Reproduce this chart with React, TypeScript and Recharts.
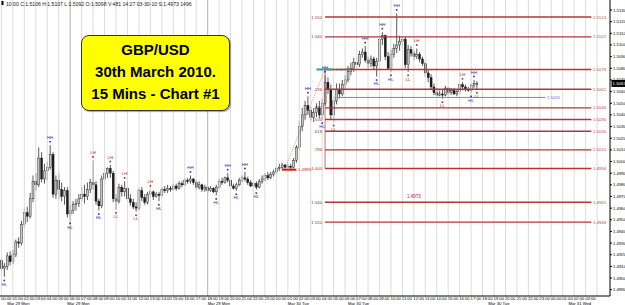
import {
  Bar,
  ComposedChart,
  ReferenceDot,
  ReferenceLine,
  Scatter,
  XAxis,
  YAxis
} from 'recharts';

// 15 min bars, Mar 29 00:00 onwards
const opens = [
  1.4915, 1.4908, 1.491, 1.4919, 1.4914, 1.492, 1.4931, 1.493, 1.4946, 1.4956,
  1.4953, 1.4968, 1.4983, 1.498, 1.5003, 1.4985, 1.4992, 1.4995, 1.5006, 1.4972,
  1.4984, 1.4976, 1.497, 1.4975, 1.4955, 1.4958, 1.4963, 1.4964, 1.4968, 1.4972,
  1.497, 1.4976, 1.4982, 1.498, 1.4966, 1.4962, 1.4985, 1.499, 1.4994, 1.499,
  1.4968, 1.4966, 1.4978, 1.4974, 1.4977, 1.4968, 1.4965, 1.4961, 1.496, 1.4975,
  1.4969, 1.4965, 1.4972, 1.4974, 1.497, 1.4972, 1.4971, 1.4976, 1.4975, 1.4977,
  1.4976, 1.4979, 1.4977, 1.4981, 1.498, 1.4984, 1.4983, 1.4985, 1.4982, 1.4978,
  1.498, 1.4976, 1.4978, 1.4975, 1.4977, 1.4974, 1.4978, 1.4983, 1.4982, 1.4986,
  1.4984, 1.4979, 1.4977, 1.498, 1.4984, 1.4986, 1.4985, 1.4982, 1.4979, 1.4981,
  1.4978, 1.4983, 1.4985, 1.4988, 1.4986, 1.4989, 1.4991, 1.4994, 1.4995, 1.4997,
  1.4995, 1.4996, 1.4995, 1.5001, 1.5012, 1.503, 1.504, 1.5048, 1.5044, 1.5038,
  1.5042, 1.5046, 1.504, 1.505, 1.5068, 1.5062, 1.504, 1.5052, 1.5062, 1.5058,
  1.5066, 1.507, 1.5077, 1.508, 1.5085, 1.5083, 1.5092, 1.5094, 1.5087, 1.5084,
  1.5088, 1.5082, 1.5086, 1.5105, 1.5108, 1.509, 1.508, 1.5092, 1.5097, 1.51,
  1.5103, 1.5105, 1.5083, 1.5096, 1.5093, 1.509, 1.5092, 1.5088, 1.5084, 1.5076,
  1.5072, 1.5064, 1.5059, 1.5057, 1.5058, 1.5057, 1.5063, 1.5059, 1.5061, 1.5058,
  1.506, 1.5066, 1.5064, 1.5062, 1.5061, 1.5065, 1.5067
];
const highs = [
  1.4917, 1.4913, 1.4922, 1.4923, 1.4924, 1.4933, 1.4935, 1.4949, 1.496, 1.4961,
  1.4973, 1.4988, 1.499, 1.5012, 1.5008, 1.4998, 1.5, 1.5014, 1.5008, 1.4988,
  1.499, 1.4982, 1.4978, 1.4978, 1.4962, 1.4966, 1.4968, 1.4972, 1.4978, 1.498,
  1.4982, 1.4985, 1.5001, 1.4983, 1.4968, 1.4988, 1.4994, 1.4995, 1.4997, 1.4992,
  1.4972, 1.4981, 1.498, 1.4983, 1.4979, 1.4972, 1.4968, 1.4965, 1.4977, 1.4978,
  1.4972, 1.4974, 1.4976, 1.4975, 1.4974, 1.4974, 1.4978, 1.4979, 1.498, 1.4979,
  1.4981, 1.4981, 1.4983, 1.4983, 1.4986, 1.4986, 1.4988, 1.4986, 1.4984, 1.4983,
  1.4981, 1.498, 1.4979, 1.4979, 1.4978, 1.498, 1.4985, 1.4986, 1.4987, 1.499,
  1.4985, 1.4981, 1.4982, 1.4986, 1.4988, 1.4991, 1.4987, 1.4984, 1.4983, 1.4983,
  1.4985, 1.4988, 1.499, 1.4991, 1.4991, 1.4993, 1.4996, 1.4998, 1.4999, 1.4998,
  1.4998, 1.4998, 1.5003, 1.5014, 1.5035, 1.5046, 1.5052, 1.5056, 1.5047, 1.5046,
  1.505, 1.5052, 1.5054, 1.5074, 1.5072, 1.5066, 1.5056, 1.5067, 1.5067, 1.507,
  1.5074, 1.5082, 1.5085, 1.5089, 1.509, 1.5095, 1.5097, 1.5099, 1.509, 1.5091,
  1.509, 1.5089, 1.5108, 1.5111, 1.5109, 1.5094, 1.5096, 1.5101, 1.5127, 1.5108,
  1.5107, 1.5107, 1.51, 1.5099, 1.5095, 1.5097, 1.5094, 1.509, 1.5086, 1.5079,
  1.5075, 1.5067, 1.5063, 1.5061, 1.5062, 1.5065, 1.5064, 1.5063, 1.5063, 1.5062,
  1.5066, 1.5068, 1.5066, 1.5064, 1.5067, 1.507, 1.5069
];
const lows = [
  1.4905, 1.4901, 1.4907, 1.4911, 1.4912, 1.4918, 1.4926, 1.4928, 1.4943, 1.4948,
  1.4951, 1.4965, 1.4975, 1.4978, 1.4982, 1.4981, 1.4984, 1.4993, 1.4969, 1.4968,
  1.4968, 1.4966, 1.4963, 1.4952, 1.495, 1.4955, 1.4958, 1.4961, 1.4966, 1.4964,
  1.4967, 1.4973, 1.4976, 1.4963, 1.4958, 1.496, 1.498, 1.4986, 1.4986, 1.4965,
  1.4959, 1.4964, 1.497, 1.497, 1.4966, 1.4962, 1.4959, 1.4957, 1.4958, 1.4966,
  1.4963, 1.4963, 1.4969, 1.4967, 1.4969, 1.4966, 1.497, 1.4973, 1.4973, 1.4974,
  1.4975, 1.4975, 1.4976, 1.4978, 1.4979, 1.4981, 1.4981, 1.498, 1.4976, 1.4976,
  1.4974, 1.4974, 1.4973, 1.4974, 1.4973, 1.4971, 1.4977, 1.498, 1.4981, 1.4982,
  1.4977, 1.4976, 1.4975, 1.4979, 1.4982, 1.4983, 1.498, 1.4978, 1.4978, 1.4976,
  1.4977, 1.4981, 1.4983, 1.4984, 1.4985, 1.4987, 1.4989, 1.4992, 1.4993, 1.4994,
  1.4994, 1.4993, 1.4994, 1.4999, 1.501, 1.5026, 1.5036, 1.504, 1.5035, 1.5034,
  1.5038, 1.5037, 1.5036, 1.5048, 1.5058, 1.5036, 1.5034, 1.5049, 1.5054, 1.5056,
  1.5062, 1.5068, 1.5074, 1.5077, 1.508, 1.5081, 1.5089, 1.5085, 1.508, 1.5081,
  1.5079, 1.5073, 1.5083, 1.51, 1.5087, 1.5079, 1.5077, 1.5089, 1.5093, 1.5095,
  1.5098, 1.508, 1.5077, 1.509, 1.5087, 1.5088, 1.5085, 1.5082, 1.5073, 1.5068,
  1.5062, 1.5057, 1.5056, 1.5056, 1.5054, 1.5056, 1.5057, 1.5057, 1.5057, 1.5056,
  1.5058, 1.5061, 1.506, 1.506, 1.5059, 1.5063, 1.5062
];
const closes = [
  1.4908, 1.491, 1.4919, 1.4914, 1.492, 1.4931, 1.493, 1.4946, 1.4956, 1.4953,
  1.4968, 1.4983, 1.498, 1.5003, 1.4985, 1.4992, 1.4995, 1.5006, 1.4972, 1.4984,
  1.4976, 1.497, 1.4975, 1.4955, 1.4958, 1.4963, 1.4964, 1.4968, 1.4972, 1.497,
  1.4976, 1.4982, 1.498, 1.4966, 1.4962, 1.4985, 1.499, 1.4994, 1.499, 1.4968,
  1.4966, 1.4978, 1.4974, 1.4977, 1.4968, 1.4965, 1.4961, 1.496, 1.4975, 1.4969,
  1.4965, 1.4972, 1.4974, 1.497, 1.4972, 1.4971, 1.4976, 1.4975, 1.4977, 1.4976,
  1.4979, 1.4977, 1.4981, 1.498, 1.4984, 1.4983, 1.4985, 1.4982, 1.4978, 1.498,
  1.4976, 1.4978, 1.4975, 1.4977, 1.4974, 1.4978, 1.4983, 1.4982, 1.4986, 1.4984,
  1.4979, 1.4977, 1.498, 1.4984, 1.4986, 1.4985, 1.4982, 1.4979, 1.4981, 1.4978,
  1.4983, 1.4985, 1.4988, 1.4986, 1.4989, 1.4991, 1.4994, 1.4995, 1.4997, 1.4995,
  1.4996, 1.4995, 1.5001, 1.5012, 1.503, 1.504, 1.5048, 1.5044, 1.5038, 1.5042,
  1.5046, 1.504, 1.505, 1.5068, 1.5062, 1.504, 1.5052, 1.5062, 1.5058, 1.5066,
  1.507, 1.5077, 1.508, 1.5085, 1.5083, 1.5092, 1.5094, 1.5087, 1.5084, 1.5088,
  1.5082, 1.5086, 1.5105, 1.5108, 1.509, 1.508, 1.5092, 1.5097, 1.51, 1.5103,
  1.5105, 1.5083, 1.5096, 1.5093, 1.509, 1.5092, 1.5088, 1.5084, 1.5076, 1.5072,
  1.5064, 1.5059, 1.5057, 1.5058, 1.5057, 1.5063, 1.5059, 1.5061, 1.5058, 1.506,
  1.5066, 1.5064, 1.5062, 1.5061, 1.5065, 1.5067, 1.5067
];

// swing labels (bar index + type)
const swingSlots = [
  1, 17, 24, 32, 34, 38, 40, 43, 47, 52, 55, 66, 75, 79, 82, 85, 89,
  107, 112, 113, 116, 127, 131, 133, 136, 138, 142, 145, 154, 161, 164, 165, 166
];
const swingKinds = [
  'HL', 'HH', 'HL', 'LH', 'HL', 'LH', 'LL', 'LH', 'LL', 'LH', 'HL', 'HH', 'HL', 'HH', 'HL', 'HH', 'HL',
  'HH', 'HL', 'HH', 'LL', 'HH', 'HL', 'HH', 'HL', 'HH', 'LL', 'LH', 'LL', 'LH', 'HL', 'HH', 'LL'
];

const hourLabels = [
  '00:00', '01:00', '02:00', '03:00', '04:00', '05:00', '06:00', '07:00', '08:00', '09:00',
  '10:00', '11:00', '12:00', '13:00', '14:00', '15:00', '16:00', '17:00', '18:00', '19:00',
  '20:00', '21:00', '22:00', '23:00', '00:00', '01:00', '02:00', '03:00', '04:00', '05:00',
  '06:00', '07:00', '08:00', '09:00', '10:00', '11:00', '12:00', '13:00', '14:00', '15:00',
  '16:00', '17:00', '18:00', '19:00', '20:00', '21:00', '22:00', '23:00', '00:00', '01:00',
  '02:00', '03:00'
];
const hourSlots = hourLabels.map((_, i) => i * 4);
const gridSlots = [...hourSlots, 208];

const dateLabels = ['Mar 29 Mon', 'Mar 29 Mon', 'Mar 29 Mon', 'Mar 30 Tue', 'Mar 30 Tue', 'Mar 30 Tue', 'Mar 31 Wed'];
const dateSlots = [2, 23, 72, 100, 121, 170, 198];

const priceTicks = [
  1.489, 1.49, 1.491, 1.492, 1.493, 1.494, 1.495, 1.496, 1.497, 1.498, 1.499, 1.5, 1.501,
  1.502, 1.503, 1.504, 1.505, 1.506, 1.507, 1.508, 1.509, 1.51, 1.511, 1.512, 1.513
];

// fibonacci levels drawn off the 1.4994 -> 1.5079 swing
const fibPrices = [1.5124, 1.5107, 1.5079, 1.5062, 1.5046, 1.5036, 1.5026, 1.501, 1.4994, 1.4965, 1.4948];
const fibNames = ['1.550', '1.340', '', '.236', '.382', '.500', '.618', '.786', '1.000', '1.340', '1.550'];
const swingLow = 1.4993;
const swingHigh = 1.5079;
const supportLevel = 1.5055;
const stopLevel = 1.4973;

const SLOTS = 213;
const FONT = '"Liberation Sans", Arial, sans-serif';

const data = Array.from({ length: SLOTS }, (_, i) => {
  const k = swingSlots.indexOf(i);
  const kind = k >= 0 ? swingKinds[k] : undefined;
  return {
    slot: i,
    o: opens[i],
    h: highs[i],
    l: lows[i],
    c: closes[i],
    kind,
    mark: kind ? (kind === 'HH' || kind === 'LH' ? highs[i] : lows[i]) : undefined
  };
});

const lastClose = closes[closes.length - 1];

const Candle = (props: any) => {
  const { x, y, width, height, payload } = props;
  if (!payload || payload.o === undefined || !height) return null;
  const { o, h, l, c } = payload;
  const k = height / (h - l);
  const cx = x + width / 2;
  const top = y + (h - Math.max(o, c)) * k;
  const bot = y + (h - Math.min(o, c)) * k;
  const up = c >= o;
  return (
    <g>
      <line x1={cx} x2={cx} y1={y} y2={y + height} stroke="#111" strokeWidth={0.7} />
      <rect
        x={cx - 1}
        y={top}
        width={2}
        height={Math.max(bot - top, 0.8)}
        fill={up ? '#c4c4c4' : '#1c1c1c'}
        stroke="#111"
        strokeWidth={0.4}
      />
    </g>
  );
};

const SwingMark = (props: any) => {
  const { cx, cy, payload } = props;
  if (!payload || !payload.kind || cy == null || isNaN(cy)) return null;
  const above = payload.kind === 'HH' || payload.kind === 'LH';
  const col = payload.kind[0] === 'H' ? '#2a2aa8' : '#c01818';
  const dotY = above ? cy - 4.3 : cy + 2.8;
  const textY = above ? cy - 6.2 : cy + 8.8;
  return (
    <g>
      <rect x={cx - 0.8} y={dotY} width={1.6} height={1.6} fill={col} />
      <text x={cx} y={textY} textAnchor="middle" fontSize={4.4} fill={col} fontFamily={FONT}>
        {payload.kind}
      </text>
    </g>
  );
};

const LevelLabel = (props: any) => {
  const { viewBox, left, right, color } = props;
  if (!viewBox) return null;
  const { x, y, width } = viewBox;
  return (
    <g fontFamily={FONT} fontSize={4.3}>
      {left ? (
        <text x={x - 3} y={y + 1.5} textAnchor="end" fill="#9a3030">
          {left}
        </text>
      ) : null}
      {right ? (
        <text x={x + width + 1.5} y={y + 1.5} fill={color || '#c04848'}>
          {right}
        </text>
      ) : null}
    </g>
  );
};

const PointText = (props: any) => {
  const { viewBox, text } = props;
  if (!viewBox) return null;
  return (
    <text x={viewBox.x} y={viewBox.y + 1.5} textAnchor="middle" fontSize={4.5} fill="#c02020" fontFamily={FONT}>
      {text}
    </text>
  );
};

const PriceTag = (props: any) => {
  const { viewBox } = props;
  if (!viewBox) return null;
  const x = viewBox.x + viewBox.width + 1.5;
  const y = viewBox.y;
  return (
    <g>
      <rect x={x} y={y - 3.5} width={13.5} height={7} fill="#000" />
      <text x={x + 1} y={y + 1.6} fill="#fff" fontSize={4.4} fontFamily={FONT}>
        {lastClose.toFixed(4)}
      </text>
    </g>
  );
};

const HourTick = (props: any) => {
  const { x, y, payload } = props;
  return (
    <text x={x - 0.5} y={y + 4.2} fontSize={4.2} fill="#000" fontFamily={FONT}>
      {hourLabels[payload.value / 4]}
    </text>
  );
};

const DateTick = (props: any) => {
  const { x, y, payload } = props;
  return (
    <text x={x} y={y + 3.6} fontSize={4.2} fill="#000" fontFamily={FONT}>
      {dateLabels[dateSlots.indexOf(payload.value)]}
    </text>
  );
};

const PriceTick = (props: any) => {
  const { x, y, payload } = props;
  return (
    <text x={x} y={y + 1.5} fontSize={4.3} fill="#000" fontFamily={FONT}>
      {Number(payload.value).toFixed(4)}
    </text>
  );
};

const FIB_START = 113;
const FIB_END = 206;

const App = () => {
  return (
    <div style={{ position: 'absolute', left: 0, top: 0, width: 625, height: 305, background: '#fff' }}>
      <ComposedChart
        width={625}
        height={305}
        data={data}
        margin={{ top: 0, right: 0, left: 0, bottom: 0 }}
        barCategoryGap={0}
        style={{ fontFamily: FONT }}
      >
        <XAxis
          dataKey="slot"
          ticks={hourSlots}
          interval={0}
          height={5}
          tickSize={0}
          tickMargin={0}
          tickLine={false}
          axisLine={{ stroke: '#000' }}
          tick={<HourTick />}
        />
        <XAxis
          xAxisId="dates"
          dataKey="slot"
          ticks={dateSlots}
          interval={0}
          height={4}
          tickSize={0}
          tickMargin={0}
          tickLine={false}
          axisLine={false}
          tick={<DateTick />}
        />
        <YAxis
          orientation="right"
          type="number"
          domain={[1.48846, 1.51386]}
          allowDataOverflow
          ticks={priceTicks}
          interval={0}
          width={15}
          tickSize={2}
          tickMargin={1}
          axisLine={{ stroke: '#000' }}
          tickLine={{ stroke: '#000' }}
          tick={<PriceTick />}
        />

        {/* hourly grid */}
        {gridSlots.map((s) => (
          <ReferenceLine key={'g' + s} x={s} stroke="#dcdcdc" strokeWidth={1} />
        ))}
        <ReferenceLine x={24} stroke="#bdbdbd" />
        <ReferenceLine x={72} stroke="#bdbdbd" />

        {fibPrices.map((p, i) => (
          <ReferenceLine
            key={'fib' + i}
            segment={[
              { x: FIB_START, y: p },
              { x: FIB_END, y: p }
            ]}
            stroke="#b23434"
            strokeWidth={1.4}
            label={<LevelLabel left={fibNames[i]} right={p.toFixed(4)} />}
          />
        ))}
        <ReferenceLine
          segment={[
            { x: FIB_START, y: swingHigh },
            { x: FIB_START, y: fibPrices[8] }
          ]}
          stroke="#b23434"
          strokeWidth={0.7}
        />
        <ReferenceLine
          segment={[
            { x: 99, y: fibPrices[8] },
            { x: FIB_START, y: swingHigh }
          ]}
          stroke="#c05050"
          strokeWidth={0.6}
          strokeDasharray="1 1"
        />
        <ReferenceLine
          segment={[
            { x: 110, y: swingHigh },
            { x: 116, y: swingHigh }
          ]}
          stroke="#3f9a8a"
          strokeWidth={2}
          label={<LevelLabel right={swingHigh.toFixed(4)} color="#4a7f78" />}
        />
        <ReferenceLine
          segment={[
            { x: 98, y: swingLow },
            { x: 103, y: swingLow }
          ]}
          stroke="#e01010"
          strokeWidth={2}
          label={<LevelLabel right={swingLow.toFixed(4)} color="#c02020" />}
        />
        <ReferenceLine
          segment={[
            { x: 117, y: supportLevel },
            { x: 190, y: supportLevel }
          ]}
          stroke="#8080d4"
          strokeWidth={1}
          label={<LevelLabel right={supportLevel.toFixed(4)} color="#6a6ac8" />}
        />
        <ReferenceDot x={144} y={1.497} r={0} stroke="none" fill="none" label={<PointText text={stopLevel.toFixed(4)} />} />
        <ReferenceLine y={lastClose} stroke="#000" strokeOpacity={0} label={<PriceTag />} />

        <Bar
          dataKey={(d: any) => (d.o === undefined ? undefined : [d.l, d.h])}
          shape={<Candle />}
          isAnimationActive={false}
        />
        <Scatter dataKey="mark" shape={<SwingMark />} isAnimationActive={false} />
      </ComposedChart>

      <svg width={625} height={10} style={{ position: 'absolute', left: 0, top: 0, pointerEvents: 'none' }}>
        <rect x={1.5} y={1} width={2} height={4} fill="#000" />
        <text x={6} y={5.5} fontSize={5.1} fill="#222" fontFamily={FONT}>
          10:00 C:1.5106 H:1.5107 L:1.5092 O:1.5098 V:481 14:27 03-30-10 S:1.4973 1496
        </text>
      </svg>

      <div
        style={{
          position: 'absolute',
          left: 81,
          top: 35,
          width: 149,
          height: 76,
          boxSizing: 'border-box',
          background: '#ffff00',
          border: '1.5px solid #333',
          borderRadius: 8,
          boxShadow: '1px 1px 1px rgba(0,0,0,0.35)',
          textAlign: 'center',
          fontFamily: FONT,
          fontWeight: 'bold',
          fontSize: 15,
          lineHeight: '22px',
          paddingTop: 3,
          color: '#000'
        }}
      >
        <div>GBP/USD</div>
        <div>30th March 2010.</div>
        <div>15 Mins - Chart #1</div>
      </div>
    </div>
  );
};

export default App;
